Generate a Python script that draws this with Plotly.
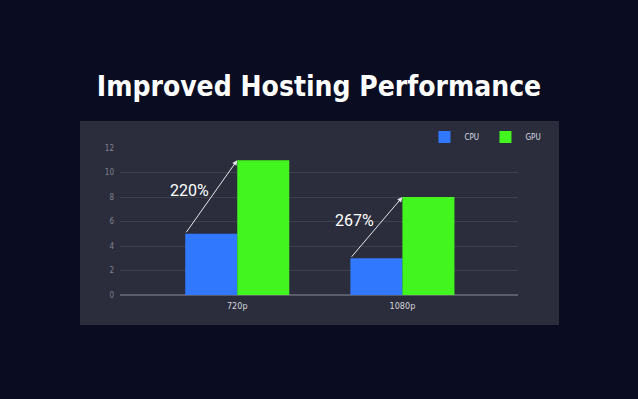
import plotly.graph_objects as go

categories = ["720p", "1080p"]
cpu_values = [5, 3]
gpu_values = [11, 8]
gain_labels = ["220%", "267%"]
y_ticks = [0, 2, 4, 6, 8, 10, 12]

bargap = 0.37
bar_w = (1 - bargap) / 2
xs = list(range(len(categories)))

fig = go.Figure()
fig.add_bar(x=xs, y=cpu_values, name="CPU", marker=dict(color="#3079FF", line=dict(width=0)))
fig.add_bar(x=xs, y=gpu_values, name="GPU", marker=dict(color="#42F51F", line=dict(width=0)))

ann = []
for i, (c, g, lab) in enumerate(zip(cpu_values, gpu_values, gain_labels)):
    ann.append(dict(x=i, y=g, ax=i - bar_w, ay=c, xref="x", yref="y", axref="x", ayref="y",
                    showarrow=True, arrowhead=2, arrowsize=1, arrowwidth=1, arrowcolor="#E6E6EA", text=""))
    ann.append(dict(x=i - 0.29, y=(c + g) / 2 + [0.57, 0.62][i], xref="x", yref="y", text=lab, showarrow=False,
                    font=dict(family="Roboto, Arial", size=16, color="#FFFFFF")))

fig.update_layout(
    width=638, height=399,
    margin=dict(l=120, r=120, t=148, b=104),
    paper_bgcolor="#0A0D22", plot_bgcolor="#2B2D3C",
    barmode="group", bargap=bargap, bargroupgap=0,
    showlegend=True,
    legend=dict(orientation="h", x=0.765, y=1.075, xanchor="left", yanchor="middle",
                font=dict(family="DejaVu Sans Condensed, Roboto", size=8, color="#DADBE2"),
                itemwidth=30, entrywidth=16, bgcolor="rgba(0,0,0,0)", traceorder="normal"),
    title=dict(text="<b>Improved Hosting Performance</b>", x=0.5, xanchor="center", y=0.785, yanchor="middle",
               font=dict(family="DejaVu Sans Condensed, Roboto", size=28, color="#FFFFFF")),
    shapes=[dict(type="rect", xref="paper", yref="paper", x0=-0.1005, x1=1.103, y0=-0.204, y1=1.184,
                 fillcolor="#2B2D3C", line=dict(width=0), layer="below")],
    xaxis=dict(range=[-0.71, 1.70], tickvals=xs, ticktext=categories, showgrid=False, zeroline=False,
               tickfont=dict(family="DejaVu Sans Condensed, Roboto", size=9, color="#D5D6DD"), ticks="",
               ticklabelstandoff=4),
    yaxis=dict(range=[0, 12], tickvals=y_ticks, gridcolor="#3E404F", gridwidth=1,
               zeroline=True, zerolinecolor="#5A5C6B", zerolinewidth=2,
               tickfont=dict(family="DejaVu Sans Condensed, Roboto", size=8, color="#80828F"), ticks="",
               ticklabelstandoff=5),
    annotations=ann,
)
fig.write_html("out.html", config={"displayModeBar": False},
               post_script="document.body.style.margin='0px';")
